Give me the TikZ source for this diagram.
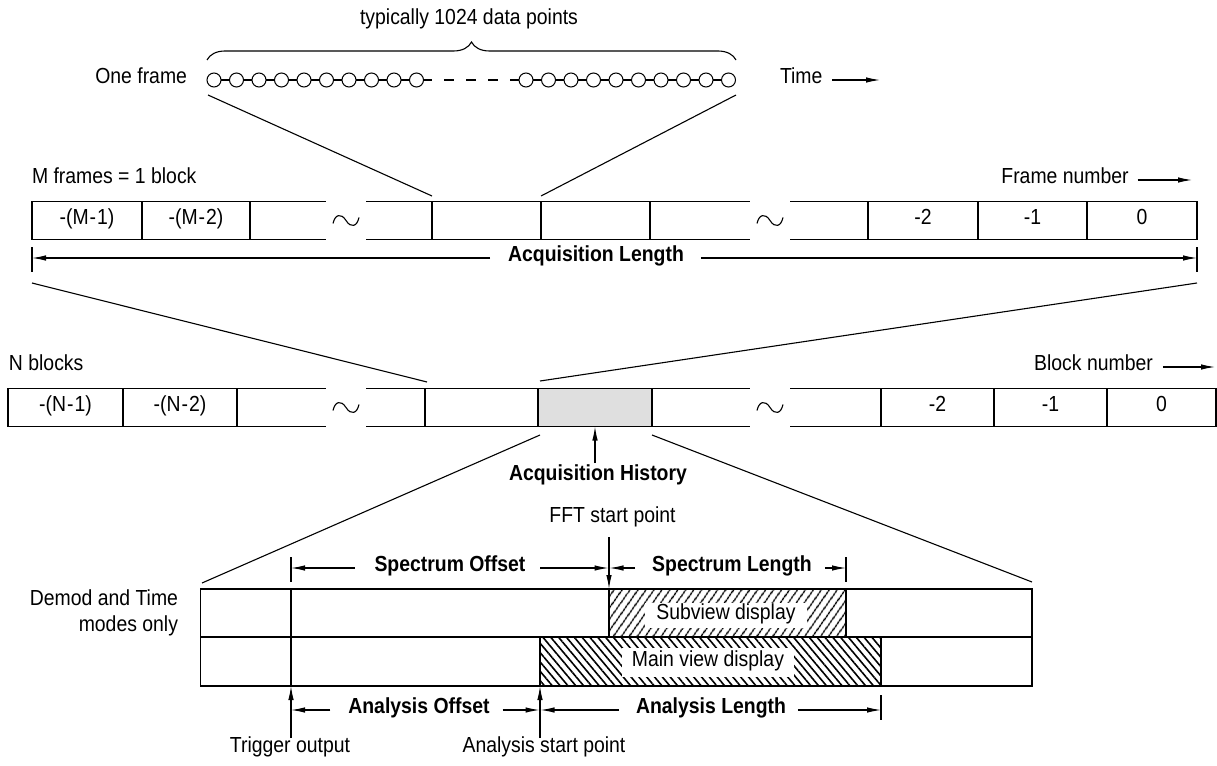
\documentclass[tikz,border=0pt]{standalone}
\usepackage{fontspec}
\setmainfont{Liberation Sans}[FakeStretch=0.89]
\usetikzlibrary{arrows.meta,decorations.pathreplacing,patterns.meta}
\newcommand{\labfont}{\fontsize{21.8}{25}\selectfont}
\begin{document}
\begin{tikzpicture}[x=1pt,y=-1pt,
  every node/.style={inner sep=0pt,outer sep=0pt},
  lab/.style={font=\labfont,text height=0.72em,text depth=0pt},
  blab/.style={font=\labfont\bfseries,text height=0.72em,text depth=0pt},
  ln/.style={line width=1.1pt},
  arr/.style={line width=1.1pt,-{Latex[length=14pt,width=5.5pt]}},
  cellbox/.style={draw,line width=1.1pt,minimum height=38pt,font=\labfont,text height=0.72em,text depth=0pt},
  dot/.style={circle,draw,fill=white,line width=1pt,minimum size=14pt},
  tildemark/.pic={\draw[line width=1.1pt] (-13,3) .. controls (-11,-6) and (-5,-8) .. (0,0) .. controls (5,8) and (11,6) .. (13,-3);},
]
\fill[white] (0,0) rectangle (1217,765);
\useasboundingbox (0,0) rectangle (1217,765);

% ---------- top: one frame ----------
\node[lab] (typ) at (469,21) {typically 1024 data points};
\coordinate (brl) at (207,60);
\coordinate (brr) at (736,60);
\draw[ln,decorate,decoration={brace,amplitude=18pt}] (brl) -- (brr);
\node[lab,anchor=east] (onef) at (187,80) {One frame};
\foreach \i in {0,...,9} {
  \node[dot] (l\i) at (214+22.5*\i,80) {};
  \node[dot] (r\i) at (526+22.5*\i,80) {};
}
\foreach \i/\j in {0/1,1/2,2/3,3/4,4/5,5/6,6/7,7/8,8/9} {
  \draw[ln] (l\i) -- (l\j);
  \draw[ln] (r\i) -- (r\j);
}
\draw[line width=1.3pt] (l9.east) -- ++(8,0);
\draw[line width=1.3pt] (r0.west) -- ++(-9,0);
\draw[line width=1.3pt] (444,80) -- ++(10,0) (466,80) -- ++(10,0) (488,80) -- ++(10,0);
\node[lab,anchor=west] (time) at (780,80) {Time};
\coordinate (timeend) at (880,80);
\draw[arr] ([xshift=10pt]time.east) -- (timeend);

% zoom lines frame -> frame row
\coordinate (z1a) at (208,95);   \coordinate (z1b) at (432,196);
\coordinate (z2a) at (736,95);   \coordinate (z2b) at (541,196);
\draw[ln] (z1a) -- (z1b);
\draw[ln] (z2a) -- (z2b);

% ---------- frame row ----------
\node[lab,anchor=west] (mfr) at (32,180) {M frames = 1 block};
\node[lab] (fnum) at (1065,180) {Frame number};
\coordinate (fnumend) at (1192,180);
\draw[arr] ([xshift=9pt]fnum.east) -- (fnumend);

\node[cellbox,minimum width=110pt] (fA) at (87,220.5) {-(M\kern1pt-\kern1pt1)};
\node[cellbox,minimum width=108pt] (fB) at (196,220.5) {-(M\kern1pt-\kern1pt2)};
\node[cellbox,minimum width=109pt] (fC) at (486.5,220.5) {};
\node[cellbox,minimum width=109pt] (fD) at (595.5,220.5) {};
\node[cellbox,minimum width=110pt] (fE) at (923,220.5) {-2};
\node[cellbox,minimum width=109pt] (fF) at (1032.5,220.5) {-1};
\node[cellbox,minimum width=110pt] (fG) at (1142,220.5) {0};
\draw[ln] (fB.north east) -- (326,201.5) (fB.south east) -- (326,239.5);
\draw[ln] (366,201.5) -- (fC.north west) (366,239.5) -- (fC.south west);
\draw[ln] (fD.north east) -- (750,201.5) (fD.south east) -- (750,239.5);
\draw[ln] (790,201.5) -- (fE.north west) (790,239.5) -- (fE.south west);
\pic at (346,220.5) {tildemark};
\pic at (770,220.5) {tildemark};

\node[blab] (al) at (596,258) {Acquisition Length};
\draw[ln] (32,247) -- (32,272);
\draw[ln] (1197,247) -- (1197,272);
\draw[arr] ([xshift=-18pt]al.west) -- (32,258);
\draw[arr] ([xshift=17pt]al.east) -- (1197,258);

% zoom lines frame row -> block row
\coordinate (z3a) at (32,283);   \coordinate (z3b) at (427,382);
\coordinate (z4a) at (1197,283); \coordinate (z4b) at (540,381);
\draw[ln] (z3a) -- (z3b);
\draw[ln] (z4a) -- (z4b);

% ---------- block row ----------
\node[lab,anchor=west] (nbl) at (9,367) {N blocks};
\node[lab] (bnum) at (1093.5,367) {Block number};
\coordinate (bnumend) at (1215,367);
\draw[arr] ([xshift=10pt]bnum.east) -- (bnumend);

\node[cellbox,minimum width=115pt] (bA) at (65.5,407.5) {-(N\kern1pt-\kern1pt1)};
\node[cellbox,minimum width=114pt] (bB) at (180,407.5) {-(N\kern1pt-\kern1pt2)};
\node[cellbox,minimum width=113pt] (bC) at (481.5,407.5) {};
\node[cellbox,minimum width=114pt,fill=gray!25] (bD) at (595,407.5) {};
\node[cellbox,minimum width=113pt] (bE) at (937.5,407.5) {-2};
\node[cellbox,minimum width=113pt] (bF) at (1050.5,407.5) {-1};
\node[cellbox,minimum width=109pt] (bG) at (1161.5,407.5) {0};
\draw[ln] (bB.north east) -- (326,388.5) (bB.south east) -- (326,426.5);
\draw[ln] (366,388.5) -- (bC.north west) (366,426.5) -- (bC.south west);
\draw[ln] (bD.north east) -- (750,388.5) (bD.south east) -- (750,426.5);
\draw[ln] (790,388.5) -- (bE.north west) (790,426.5) -- (bE.south west);
\pic at (346,407.5) {tildemark};
\pic at (770,407.5) {tildemark};

\node[blab] (ah) at (598,477) {Acquisition History};
\draw[arr] (595,463) -- (bD.south);

% zoom lines block -> bands
\coordinate (z5a) at (540,435);  \coordinate (z5b) at (202,583);
\coordinate (z6a) at (652,435);  \coordinate (z6b) at (1032,582);
\draw[ln] (z5a) -- (z5b);
\draw[ln] (z6a) -- (z6b);

% ---------- bands ----------
\node[lab,anchor=east] (dm1) at (178,602) {Demod and Time};
\node[lab,anchor=east] (dm2) at (178,628) {modes only};

\node[draw,ln,minimum width=831.3pt,minimum height=48pt] (bandU) at (616.35,613) {};
\node[draw,ln,minimum width=831.3pt,minimum height=49pt] (bandL) at (616.35,661.5) {};
\node[draw,ln,minimum width=237pt,minimum height=48pt,
      pattern={Lines[angle=55,distance=6.5pt,line width=1.6pt]}] (sub) at (727.5,613) {};
\node[draw,ln,minimum width=341pt,minimum height=49pt,
      pattern={Lines[angle=-50,distance=6pt,line width=1.6pt]}] (main) at (710.5,661.5) {};
\node[lab,fill=white,inner xsep=11pt,minimum height=25pt] (subt) at (726,615.5) {Subview display};
\node[lab,fill=white,inner xsep=10pt,minimum height=29pt] (maint) at (708,662.5) {Main view display};
\draw[ln] (291,589) -- (291,686);

% spectrum dimensions
\node[blab] (so) at (450,568) {Spectrum Offset};
\draw[ln] (291,557) -- (291,582);
\draw[arr] ([xshift=-20pt]so.west) -- (291,568);
\draw[arr] ([xshift=15pt]so.east) -- (608.5,568);
\node[lab] (fft) at (612.5,519) {FFT start point};
\draw[arr] (609,537) -- (sub.north west);
\node[blab] (sl) at (732,568) {Spectrum Length};
\draw[arr] ([xshift=-17pt]sl.west) -- (609.5,568);
\draw[arr] ([xshift=13pt]sl.east) -- (846,568);
\draw[ln] (846,557) -- (846,582);

% analysis dimensions
\node[blab] (ao) at (419,710) {Analysis Offset};
\draw[arr] ([xshift=-18pt]ao.west) -- (291,710);
\draw[arr] ([xshift=13pt]ao.east) -- (539.5,710);
\node[blab] (alen) at (711,710) {Analysis Length};
\draw[arr] ([xshift=-17pt]alen.west) -- (540.5,710);
\draw[arr] ([xshift=12pt]alen.east) -- (881,710);
\draw[ln] (881,695) -- (881,720);
\draw[arr] (291,738) -- (bandL.south west -| 291,0);
\draw[arr] (540,738) -- (main.south west);
\node[lab] (trg) at (290,749) {Trigger output};
\node[lab] (asp) at (544,749) {Analysis start point};
\end{tikzpicture}
\end{document}
